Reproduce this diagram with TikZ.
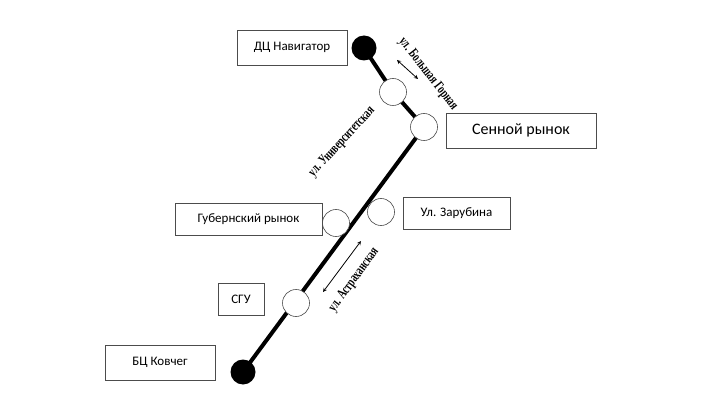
\documentclass[tikz,border=0pt]{standalone}
\usepackage{fontspec}
\setmainfont{Carlito}
\newfontfamily\streetfont{Liberation Serif}
\newcommand{\narrowtext}[1]{\scalebox{0.68}[1]{#1}}
\begin{document}
\begin{tikzpicture}[x=1pt,y=-1pt,
  box/.style={draw=black!70,line width=0.6pt,fill=white,inner sep=0pt,font=\fontsize{13}{15}\selectfont},
  stop/.style={circle,draw=black!70,fill=white,minimum size=27pt,inner sep=0pt,line width=0.6pt},
  term/.style={circle,fill=black,minimum size=25pt,inner sep=0pt},
  street/.style={font=\streetfont\bfseries\fontsize{14}{15}\selectfont,inner sep=0pt},
  line/.style={line width=4pt},
  dbl/.style={<->,>=stealth,line width=0.8pt}]
\useasboundingbox (0,0) rectangle (720,406);
\coordinate (nav) at (364,48);
\coordinate (s1) at (393,92);
\coordinate (senn) at (424,127);
\coordinate (kov) at (243,372);
\draw[line] (nav) -- (s1) -- (senn) -- (kov);
\node[term] (navd) at (nav) {};
\node[term] (kovd) at (kov) {};
\node[stop] (s1c) at (s1) {};
\node[stop] (sennc) at (senn) {};
\node[stop] (zar) at (381,212) {};
\node[stop] (gub) at (336,223) {};
\node[stop] (sgu) at (296,303) {};
\node[box,minimum width=110pt,minimum height=35pt] (bnav) at (292,47.5) {ДЦ Навигатор};
\node[box,minimum width=150pt,minimum height=35pt,font=\fontsize{16}{18}\selectfont] (bsenn) at (521,130.5) {Сенной рынок};
\node[box,minimum width=147pt,minimum height=32pt] (bgub) at (248.5,219) {Губернский рынок};
\node[box,minimum width=107pt,minimum height=32pt] (bzar) at (456.5,213) {Ул. Зарубина};
\node[box,minimum width=46pt,minimum height=32pt] (bsgu) at (241,299) {СГУ};
\node[box,minimum width=110pt,minimum height=35pt] (bkov) at (160,362.5) {БЦ Ковчег};
\node[street,rotate=-52] (lg) at (428,74) {\narrowtext{ул. Большая Горная}};
\node[street,rotate=47] (lu) at (342,142) {\narrowtext{ул. Университетская}};
\node[street,rotate=54] (la) at (354,280) {\narrowtext{ул. Астраханская}};
\coordinate (g1) at (397,60); \coordinate (g2) at (418,79);
\coordinate (a1) at (323,292); \coordinate (a2) at (361,241);
\draw[dbl] (g1) -- (g2);
\draw[dbl] (a1) -- (a2);
\end{tikzpicture}
\end{document}
